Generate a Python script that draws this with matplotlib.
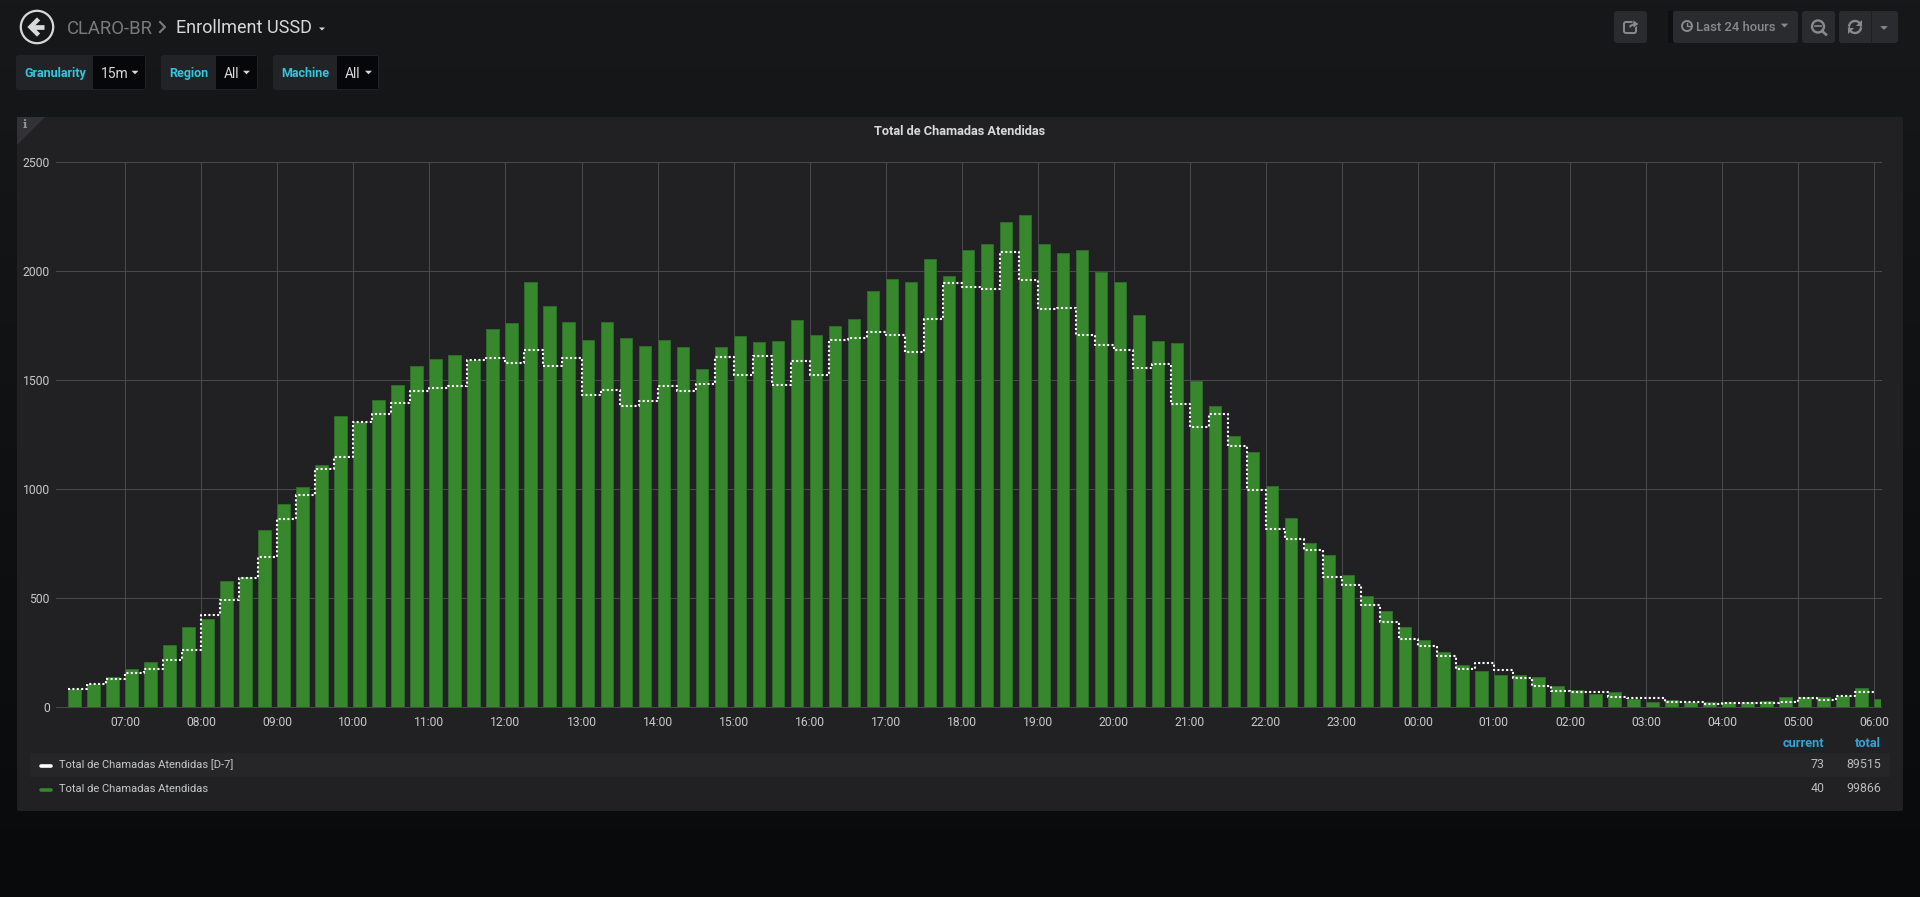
# Enrollment USSD dashboard, grafana dark look
import matplotlib
matplotlib.use('Agg')
import matplotlib.dates as mdates
import matplotlib.pyplot as plt
from matplotlib.patches import Circle, FancyBboxPatch, Polygon, Rectangle
import numpy as np
import pandas as pd

plt.rcParams['font.family'] = ['Roboto', 'DejaVu Sans']

# data
start_slot = '2018-06-01 06:15'
chamadas = [
    86, 109, 141, 177, 208, 286, 367, 404, 580, 599, 812, 934, 1009, 1110, 1336, 1309,
    1408, 1477, 1567, 1596, 1616, 1593, 1733, 1764, 1948, 1839, 1766, 1685, 1766, 1694, 1657, 1685,
    1651, 1550, 1654, 1703, 1676, 1679, 1775, 1705, 1746, 1778, 1908, 1965, 1951, 2055, 1977, 2096,
    2124, 2225, 2255, 2122, 2084, 2096, 1994, 1951, 1800, 1679, 1671, 1497, 1381, 1243, 1171, 1014,
    868, 751, 699, 607, 511, 442, 368, 307, 254, 194, 166, 147, 147, 141, 98, 81,
    61, 70, 37, 24, 35, 26, 26, 26, 23, 31, 49, 47, 47, 50, 90, 40,
]
chamadas_d7 = [
    86, 109, 128, 156, 177, 216, 263, 422, 494, 593, 690, 862, 972, 1093, 1147, 1307,
    1345, 1396, 1451, 1462, 1475, 1593, 1600, 1578, 1636, 1566, 1601, 1433, 1454, 1382, 1402, 1471,
    1451, 1482, 1606, 1524, 1610, 1476, 1586, 1524, 1685, 1693, 1722, 1708, 1628, 1781, 1946, 1927,
    1916, 2089, 1959, 1827, 1829, 1709, 1662, 1636, 1555, 1572, 1391, 1283, 1344, 1199, 998, 816,
    772, 719, 599, 561, 471, 393, 313, 283, 234, 177, 203, 173, 135, 99, 75, 69,
    69, 46, 43, 43, 23, 23, 17, 21, 20, 21, 23, 44, 35, 52, 70, 73,
]
y_ticks = [0, 500, 1000, 1500, 2000, 2500]
legend_names = ['Total de Chamadas Atendidas [D-7]', 'Total de Chamadas Atendidas']
legend_current = [73, 40]
legend_total = [89515, 99866]

slots = pd.date_range(start_slot, periods=len(chamadas), freq='15min')

W, H = 1920, 897
GREEN = '#37872d'
TEXT = '#d8d9da'
CYAN = '#33c5dc'
BLUE = '#33a2d6'
BTN = '#2a2b2e'

fig = plt.figure(figsize=(W / 100, H / 100), dpi=100)

# page chrome, in pixel coords
bg = fig.add_axes([0, 0, 1, 1], zorder=0)
bg.axis('off')
grad = np.linspace(0, 1, 256)[:, None]
top = np.array([0x17, 0x18, 0x1a]) / 255
bot = np.array([0x09, 0x0a, 0x0c]) / 255
bg.imshow(top + (bot - top) * grad[:, :, None], extent=[0, W, H, 0], aspect='auto', zorder=0)
bg.set_xlim(0, W)
bg.set_ylim(H, 0)


def box(x0, y0, x1, y1, color, r=3, z=1):
    bg.add_patch(FancyBboxPatch((x0 + r, y0 + r), x1 - x0 - 2 * r, y1 - y0 - 2 * r,
                                boxstyle='round,pad=%s,rounding_size=%s' % (r, r),
                                fc=color, ec='none', zorder=z))


def caret(x, y, color=TEXT, s=3.5):
    bg.add_patch(Polygon([(x - s, y - s / 2), (x + s, y - s / 2), (x, y + s / 2)],
                         fc=color, ec='none', zorder=5))


def txt(x, y, s, size=8.6, color=TEXT, ha='left', weight='normal'):
    # y is the middle of the capitals, so words with and without descenders line up
    bg.text(x, y + 0.49 * size, s, fontsize=size, color=color, ha=ha, va='baseline',
            fontweight=weight, zorder=6)


# back button
bg.add_patch(Circle((37, 27), 16.2, fc='none', ec=TEXT, lw=1.6, zorder=5))
bg.plot([31, 44], [27, 27], color=TEXT, lw=3.4, solid_capstyle='butt', zorder=5)
bg.plot([37, 30.5, 37], [20.5, 27, 33.5], color=TEXT, lw=3.2, solid_joinstyle='miter', zorder=5)

# breadcrumb
txt(67, 27, 'CLARO-BR', 13.3, '#7b7b7e')
bg.plot([160, 165, 160], [22, 27, 32], color='#7b7b7e', lw=1.5, zorder=5)
txt(176, 27, 'Enrollment USSD', 13.0, TEXT)
caret(322, 29, TEXT, 3)

# template variables
var_boxes = [
    (16, 93, 146, 'Granularity', '15m', 135),
    (161, 216, 258, 'Region', 'All', 246.5),
    (273, 337, 379, 'Machine', 'All', 368.5),
]
for x0, xm, x1, label, value, cx in var_boxes:
    box(x0, 55, x1, 90, '#212327', z=1)
    bg.add_patch(Rectangle((xm, 56), x1 - xm - 1, 33, fc='#07070a', ec='none', zorder=2))
    txt(x0 + 8, 72.5, label, 9, CYAN, weight='bold')
    txt(xm + 8, 73, value, 10, TEXT)
    caret(cx, 72.5, TEXT, 3.5)

# toolbar
box(1614, 11, 1647, 43, BTN)
bg.add_patch(Rectangle((1668, 11), 6, 32, fc='#0e0f11', ec='none', zorder=1))
box(1673, 11, 1798, 43, BTN)
box(1802, 11, 1835, 43, BTN)
box(1839, 11, 1898, 43, BTN)
bg.plot([1871, 1871], [11, 43], color='#1e1f22', lw=0.7, zorder=2)
ICON = '#8a8a8c'
# share icon
bg.add_patch(FancyBboxPatch((1624, 22), 12, 11, boxstyle='round,pad=0,rounding_size=2',
                            fc='none', ec=ICON, lw=1.4, zorder=5))
bg.add_patch(Polygon([(1629, 29), (1629, 25), (1633, 23), (1633, 19.5), (1639, 24), (1633, 28.5),
                      (1633, 26)], fc=ICON, ec=BTN, lw=0.6, zorder=6))
# time picker
bg.add_patch(Circle((1687, 26), 5, fc='none', ec=ICON, lw=1.4, zorder=5))
bg.plot([1687, 1687, 1690], [23, 26.5, 26.5], color=ICON, lw=1, zorder=5)
txt(1696, 26.5, 'Last 24 hours', 9.4, ICON, weight='medium')
caret(1784.5, 25.5, ICON, 3.8)
# zoom out
bg.add_patch(Circle((1818, 26.5), 6, fc='none', ec=ICON, lw=1.7, zorder=5))
bg.plot([1815, 1821], [26.5, 26.5], color=ICON, lw=1.2, zorder=5)
bg.plot([1822, 1826], [31, 34.5], color=ICON, lw=1.9, zorder=5)
# refresh
theta = np.linspace(0.25, 2.9, 30)
bg.plot(1855 + 6 * np.cos(theta), 27 - 6 * np.sin(theta), color=ICON, lw=1.7, zorder=5)
bg.plot(1855 - 6 * np.cos(theta), 27 + 6 * np.sin(theta), color=ICON, lw=1.7, zorder=5)
bg.add_patch(Polygon([(1862, 20), (1862, 26), (1856, 26)], fc=ICON, ec='none', zorder=5))
bg.add_patch(Polygon([(1848, 34), (1848, 28), (1854, 28)], fc=ICON, ec='none', zorder=5))
caret(1884, 28, ICON, 3.8)

# panel
box(17, 117, 1903, 811, '#212124', r=2)
bg.add_patch(Polygon([(17, 117), (45, 117), (17, 145)], fc='#323236', ec='none', zorder=2))
bg.text(25, 125, 'i', fontsize=8, family='DejaVu Serif', color='#9a9a9c', ha='center', va='center',
        fontweight='bold', zorder=6)
txt(959.5, 130.5, 'Total de Chamadas Atendidas', 9.2, TEXT, ha='center', weight='bold')

# legend
bg.add_patch(Rectangle((30, 753), 1860, 24, fc='#262628', ec='none', zorder=2))
txt(1824, 742, 'current', 9.2, BLUE, ha='right', weight='bold')
txt(1881, 742, 'total', 9.2, BLUE, ha='right', weight='bold')
swatch = ['#ffffff', GREEN]
for i, name in enumerate(legend_names):
    y = 764 + i * 24
    bg.plot([41, 51], [y + 2, y + 2], color=swatch[i], lw=2.6, solid_capstyle='round', zorder=5)
    txt(59, y, name, 8.0, '#c8c9ca')
    txt(1824.5, y, str(legend_current[i]), 8.9, '#b9babb', ha='right')
    txt(1881, y, str(legend_total[i]), 8.9, '#b9babb', ha='right')

# chart
ax_l, ax_r, ax_t, ax_b = 56, 1881, 162, 707.3
ax = fig.add_axes([ax_l / W, 1 - ax_b / H, (ax_r - ax_l) / W, (ax_b - ax_t) / H], zorder=1)
ax.patch.set_alpha(0)
for s in ax.spines.values():
    s.set_visible(False)

bar_w = 10 / 1440
ax.bar(slots, chamadas, width=bar_w, align='edge', color=GREEN, edgecolor='#2f6b2b',
       linewidth=0.7, zorder=2)
ax.plot(slots, chamadas_d7, drawstyle='steps-post', color='white', lw=1.5,
        dashes=(1.0, 1.1), zorder=3)

first_hour = pd.Timestamp(start_slot).floor('h') + pd.Timedelta(hours=1)
hour = 1 / 24
ax.set_xlim(mdates.date2num(first_hour) - (125.3 - ax_l) / 76 * hour,
            mdates.date2num(slots[-1]) + (ax_r - 1874.0) / 76 * hour)
ax.set_ylim(0, 2500)
ax.set_yticks(y_ticks)
ax.xaxis.set_major_locator(mdates.HourLocator(interval=1))
ax.xaxis.set_major_formatter(mdates.DateFormatter('%H:%M'))
ax.tick_params(length=0, labelsize=8.7, labelcolor='#c8c9ca')
ax.tick_params(axis='y', pad=4.5)
ax.tick_params(axis='x', pad=6)
ax.set_axisbelow(True)
ax.grid(True, color='#4a4a4d', lw=0.75)
for line in ax.get_ygridlines() + ax.get_xgridlines():
    line.set_clip_on(False)

fig.savefig('out.png', dpi=100, facecolor=fig.get_facecolor())
